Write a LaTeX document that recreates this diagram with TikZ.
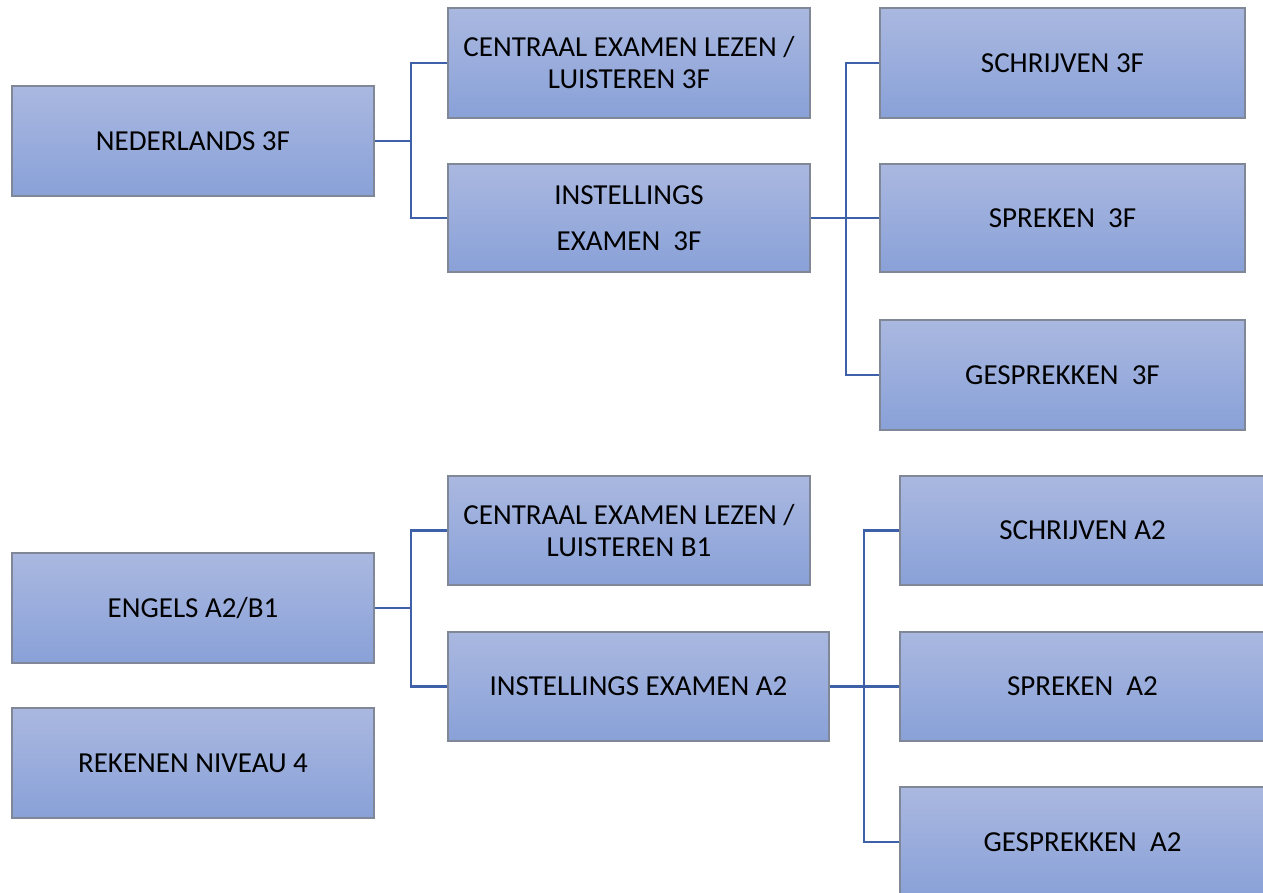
\documentclass[tikz,border=0pt]{standalone}
\usepackage{fontspec}
\setmainfont{Carlito}
\definecolor{boxtop}{RGB}{170,184,224}
\definecolor{boxbot}{RGB}{137,161,216}
\definecolor{boxline}{RGB}{128,136,152}
\definecolor{conn}{RGB}{62,96,168}
\begin{document}
\begin{tikzpicture}[x=1pt,y=-1pt,
  bx/.style={draw=boxline,line width=1.2pt,top color=boxtop,bottom color=boxbot,
    minimum width=362pt,minimum height=110pt,inner sep=0pt,align=center,
    font=\fontsize{29}{32}\selectfont},
  wide/.style={minimum width=365pt},
  cn/.style={draw=conn,line width=2.2pt}]
\useasboundingbox (0,0) rectangle (1263,892);
\node[bx] (ned) at (193,141) {NEDERLANDS 3F};
\node[bx] (c3f) at (629,63) {CENTRAAL EXAMEN LEZEN /\\LUISTEREN 3F};
\node[bx,minimum height=108pt] (i3f) at (629,218) {INSTELLINGS\\[14pt]EXAMEN\ \ 3F};
\node[bx,wide] (s3f) at (1062.5,63) {SCHRIJVEN 3F};
\node[bx,wide,minimum height=108pt] (sp3f) at (1062.5,218) {SPREKEN\ \ 3F};
\node[bx,wide] (g3f) at (1062.5,375) {GESPREKKEN\ \ 3F};
\node[bx] (eng) at (193,608) {ENGELS A2/B1};
\node[bx,minimum height=109pt] (cb1) at (629,530.5) {CENTRAAL EXAMEN LEZEN /\\LUISTEREN B1};
\node[bx,minimum width=381pt,minimum height=109pt] (ia2) at (638.5,686.5) {INSTELLINGS EXAMEN A2};
\node[bx,wide,minimum height=109pt] (sa2) at (1082.5,530.5) {SCHRIJVEN A2};
\node[bx,wide,minimum height=109pt] (spa2) at (1082.5,686.5) {SPREKEN\ \ A2};
\node[bx,wide] (ga2) at (1082.5,842) {GESPREKKEN\ \ A2};
\node[bx] (rek) at (193,763) {REKENEN NIVEAU 4};
\coordinate (j1) at (411,141);
\coordinate (j2) at (846,218);
\coordinate (j3) at (411,608);
\coordinate (j4) at (864,686.5);
\draw[cn] (ned.east) -- (j1);
\draw[cn] (c3f.west) -| (j1);
\draw[cn] (i3f.west) -| (j1);
\draw[cn] (i3f.east) -- (sp3f.west);
\draw[cn] (s3f.west) -| (j2);
\draw[cn] (g3f.west) -| (j2);
\draw[cn] (eng.east) -- (j3);
\draw[cn] (cb1.west) -| (j3);
\draw[cn] (ia2.west) -| (j3);
\draw[cn] (ia2.east) -- (spa2.west);
\draw[cn] (sa2.west) -| (j4);
\draw[cn] (ga2.west) -| (j4);
\end{tikzpicture}
\end{document}
